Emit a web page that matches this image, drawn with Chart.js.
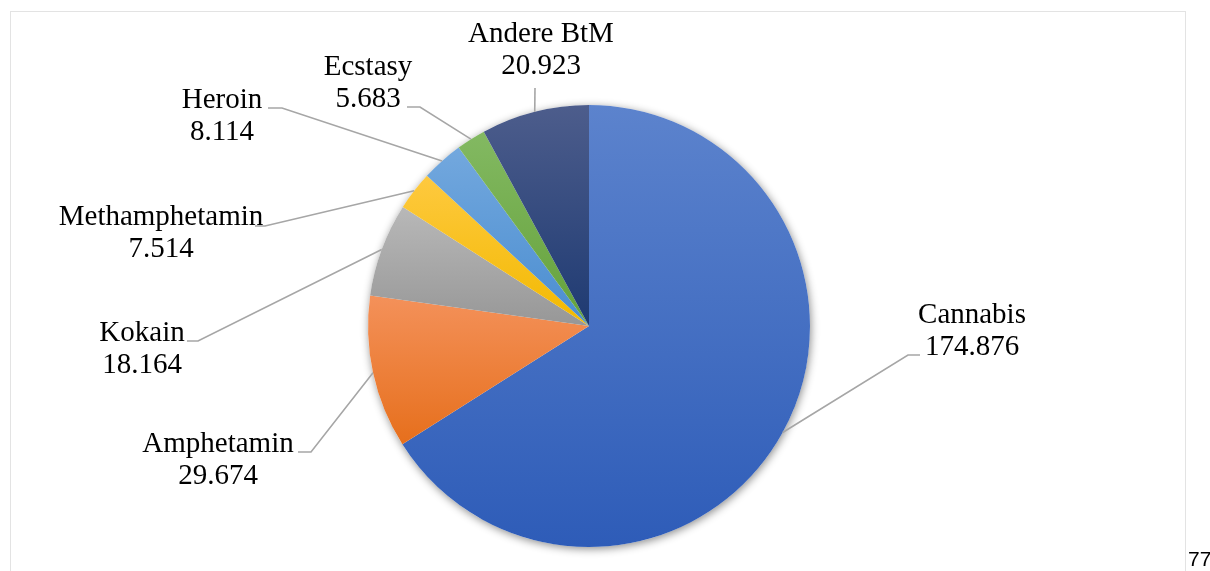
<!DOCTYPE html>
<html lang="de">
<head>
<meta charset="utf-8">
<title>BtM-Delikte nach Substanz</title>
<script src="https://cdn.jsdelivr.net/npm/chart.js@4.4.1/dist/chart.umd.min.js"></script>
<style>
  html, body { margin: 0; padding: 0; background: #fff; overflow: hidden; }
  #wrap { position: relative; width: 1210px; height: 571px; }
  #frame {
    position: absolute; left: 10px; top: 11px; width: 1176px; height: 600px;
    border: 1px solid #e3e3e3; box-sizing: border-box;
  }
  #pageNo {
    position: absolute; left: 1188px; top: 547px;
    font: 21px "Liberation Sans", Arial, sans-serif; color: #000;
  }
  canvas { position: absolute; left: 0; top: 0; }
</style>
</head>
<body>
<div id="wrap">
  <div id="frame"></div>
  <canvas id="pie" width="1210" height="571"></canvas>
  <div id="pageNo">77</div>
</div>
<script>
// Cases by substance
const drugNames = ['Cannabis', 'Amphetamin', 'Kokain', 'Methamphetamin', 'Heroin', 'Ecstasy', 'Andere BtM'];
const caseCounts = [174876, 29674, 18164, 7514, 8114, 5683, 20923];

// Gradient stops per slice (light top, dark bottom)
const topColors = ['#5c83cd', '#f4915a', '#b8b8b8', '#fec93f', '#73a8de', '#83b962', '#4d5d8c'];
const bottomColors = ['#2e5cb8', '#e66f1c', '#979797', '#f2b900', '#4a8dd0', '#64a13a', '#1e3a72'];

// Where each label sits (line 1 baseline) and how its leader line bends
const labelSpots = [
  { x: 972, y: 323, elbow: [908, 355], end: 920 },
  { x: 218, y: 452, elbow: [311, 452], end: 298 },
  { x: 142, y: 341, elbow: [198, 341], end: 187 },
  { x: 161, y: 225, elbow: [265, 226], end: 255 },
  { x: 222, y: 108, elbow: [282, 108], end: 268 },
  { x: 368, y: 75,  elbow: [420, 107], end: 407 },
  { x: 541, y: 42,  elbow: [535, 88],  end: 535 }
];

const LINE_GAP = 32;
const LABEL_FONT = '29px "Liberation Serif", "Times New Roman", serif';

function fmtDe(n) {
  return String(n).replace(/\B(?=(\d{3})+(?!\d))/g, '.');
}

// vertical extent of a slice, used for its gradient
function sliceSpan(cx, cy, r, a0, a1) {
  let ys = [cy, cy + r * Math.sin(a0), cy + r * Math.sin(a1)];
  for (let k = -4; k <= 4; k++) {
    const a = Math.PI / 2 + k * Math.PI;
    if (a > a0 && a < a1) ys.push(cy + r * Math.sin(a));
  }
  return [Math.min(...ys), Math.max(...ys)];
}

function sliceFill(ctx) {
  const i = ctx.dataIndex;
  const chart = ctx.chart;
  const area = chart.chartArea;
  const ctrl = chart.getDatasetMeta(0).controller;
  if (!area || i === undefined || !ctrl || !ctrl.outerRadius) return topColors[i];
  const r = ctrl.outerRadius;
  const cx = (area.left + area.right) / 2;
  const cy = (area.top + area.bottom) / 2;
  const total = caseCounts.reduce((s, v) => s + v, 0);
  const before = caseCounts.slice(0, i).reduce((s, v) => s + v, 0);
  const a0 = -Math.PI / 2 + before / total * Math.PI * 2;
  const a1 = a0 + caseCounts[i] / total * Math.PI * 2;
  const [y0, y1] = sliceSpan(cx, cy, r, a0, a1);
  const g = chart.ctx.createLinearGradient(0, y0, 0, y1);
  g.addColorStop(0, topColors[i]);
  g.addColorStop(1, bottomColors[i]);
  return g;
}

// soft drop shadow under the whole pie
const pieShadow = {
  id: 'pieShadow',
  beforeDatasetsDraw(chart) {
    const arc = chart.getDatasetMeta(0).data[0];
    if (!arc) return;
    const c = chart.ctx;
    c.save();
    c.shadowColor = 'rgba(0,0,0,0.45)';
    c.shadowBlur = 8;
    c.shadowOffsetX = 1;
    c.shadowOffsetY = 2;
    c.fillStyle = '#fff';
    c.beginPath();
    c.arc(arc.x, arc.y, arc.outerRadius, 0, Math.PI * 2);
    c.fill();
    c.restore();
  }
};

// category name + value, with grey leader lines to the slice edge
const leaderLabels = {
  id: 'leaderLabels',
  afterDatasetsDraw(chart) {
    const c = chart.ctx;
    const arcs = chart.getDatasetMeta(0).data;
    c.save();
    arcs.forEach((arc, i) => {
      const spot = labelSpots[i];
      const mid = (arc.startAngle + arc.endAngle) / 2;
      const px = arc.x + arc.outerRadius * Math.cos(mid);
      const py = arc.y + arc.outerRadius * Math.sin(mid);
      c.strokeStyle = '#a6a6a6';
      c.lineWidth = 1.6;
      c.beginPath();
      c.moveTo(px, py);
      c.lineTo(spot.elbow[0], spot.elbow[1]);
      c.lineTo(spot.end, spot.elbow[1]);
      c.stroke();

      c.fillStyle = '#000';
      c.font = LABEL_FONT;
      c.textAlign = 'center';
      c.textBaseline = 'alphabetic';
      c.fillText(drugNames[i], spot.x, spot.y);
      c.fillText(fmtDe(caseCounts[i]), spot.x, spot.y + LINE_GAP);
    });
    c.restore();
  }
};

new Chart(document.getElementById('pie'), {
  type: 'pie',
  data: {
    labels: drugNames,
    datasets: [{
      data: caseCounts,
      backgroundColor: sliceFill,
      borderWidth: 0
    }]
  },
  options: {
    responsive: false,
    animation: false,
    layout: { padding: { left: 368, right: 400, top: 105, bottom: 24 } },
    plugins: {
      legend: { display: false },
      tooltip: { enabled: false }
    }
  },
  plugins: [pieShadow, leaderLabels]
});
</script>
</body>
</html>
